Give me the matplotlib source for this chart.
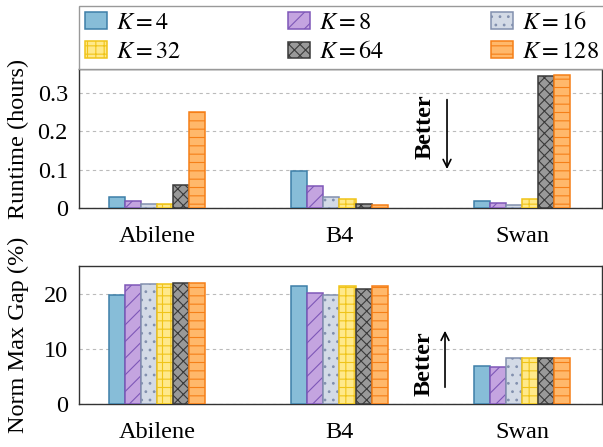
import matplotlib
matplotlib.use("Agg")
import matplotlib.pyplot as plt
import numpy as np

plt.rcParams['font.family'] = ['Liberation Serif', 'DejaVu Serif']
plt.rcParams['mathtext.fontset'] = 'stix'
plt.rcParams['hatch.linewidth'] = 0.8

networks = ["Abilene", "B4", "Swan"]
k_labels = [r"$K=4$", r"$K=8$", r"$K=16$", r"$K=32$", r"$K=64$", r"$K=128$"]

runtime = {
    "K4":   [0.029, 0.0955, 0.018],
    "K8":   [0.017, 0.057, 0.013],
    "K16":  [0.011, 0.029, 0.007],
    "K32":  [0.0096, 0.023, 0.023],
    "K64":  [0.059, 0.011, 0.344],
    "K128": [0.249, 0.008, 0.347],
}
gap = {
    "K4":   [19.8, 21.3, 7.0],
    "K8":   [21.6, 20.2, 6.7],
    "K16":  [21.8, 19.7, 8.4],
    "K32":  [21.8, 21.3, 8.4],
    "K64":  [22.0, 20.9, 8.4],
    "K128": [22.0, 21.4, 8.4],
}
keys = ["K4", "K8", "K16", "K32", "K64", "K128"]

faces = ['#87BDD8', '#C4A4E0', '#D3DAE6', '#FFE98A', '#999999', '#FFB86B']
edges = ['#3D7FA8', '#7E57B8', '#8290AE', '#F0C419', '#3A3A3A', '#F57F17']
hatches = ['', '//', '..', '++', 'xxx', '--']

fig = plt.figure(figsize=(6.03, 4.47), dpi=100)
L, R = 79/603, 602/603
ax1 = fig.add_axes([L, 1-208/447, R-L, (208-69.5)/447])
ax2 = fig.add_axes([L, 1-404.3/447, R-L, (404.3-266)/447])

x = np.arange(len(networks))
w = 0.0877
FS = 17.5

def draw(ax, data):
    handles = []
    for i, k in enumerate(keys):
        b = ax.bar(x + (i-2.5)*w, data[k], w, facecolor=faces[i], edgecolor=edges[i],
                   hatch=hatches[i], linewidth=1.1, label=k_labels[i], zorder=3)
        handles.append(b)
    ax.set_xlim(-0.427, 2.438)
    ax.set_xticks(x)
    ax.set_xticklabels(networks, fontsize=FS)
    ax.tick_params(axis='both', length=0, labelsize=FS)
    ax.tick_params(axis='x', pad=13)
    ax.tick_params(axis='y', pad=8)
    ax.grid(axis='y', color='#bbbbbb', linestyle=(0, (3, 3)), linewidth=0.8, zorder=0)
    for s in ax.spines.values():
        s.set_color('#333333')
        s.set_linewidth(1.0)
    return handles

handles = draw(ax1, runtime)
ax1.set_ylim(0, 0.36)
ax1.set_yticks([0, 0.1, 0.2, 0.3])
ax1.set_yticklabels(['0', '0.1', '0.2', '0.3'])
ax1.set_ylabel('Runtime (hours)', fontsize=FS)
ax1.yaxis.set_label_coords(-(79-29)/523, 0.5)

draw(ax2, gap)
ax2.set_ylim(0, 25)
ax2.set_yticks([0, 10, 20])
ax2.set_ylabel('Norm Max Gap (%)', fontsize=FS)
ax2.yaxis.set_label_coords(-(79-29)/523, 0.5)

# Better annotations
ax1.text(1.468, 0.211, 'Better', rotation=90, fontsize=FS, fontweight='bold',
         ha='center', va='center', zorder=5)
ax1.annotate('', xy=(1.589, 0.094), xytext=(1.589, 0.289),
             arrowprops=dict(arrowstyle='->', color='black', lw=1.2, mutation_scale=14))
ax2.text(1.463, 7.4, 'Better', rotation=90, fontsize=FS, fontweight='bold',
         ha='center', va='center', zorder=5)
ax2.annotate('', xy=(1.578, 13.8), xytext=(1.578, 2.58),
             arrowprops=dict(arrowstyle='->', color='black', lw=1.2, mutation_scale=14))

# legend in row-major order (matplotlib fills columns first)
order = [0, 3, 1, 4, 2, 5]
leg = fig.legend([handles[i] for i in order], [k_labels[i] for i in order], ncol=3,
                 loc='upper left',
                 bbox_to_anchor=(79/603, 1-6/447, 526/603, 0), mode='expand',
                 fontsize=FS, frameon=True, fancybox=False, edgecolor='#999999',
                 framealpha=1.0, borderaxespad=0, handlelength=0.9, handleheight=0.66,
                 handletextpad=0.37, labelspacing=0.3, borderpad=0.25)
leg.get_frame().set_linewidth(1.0)
leg.set_zorder(10)

fig.savefig('out.png', dpi=100)
